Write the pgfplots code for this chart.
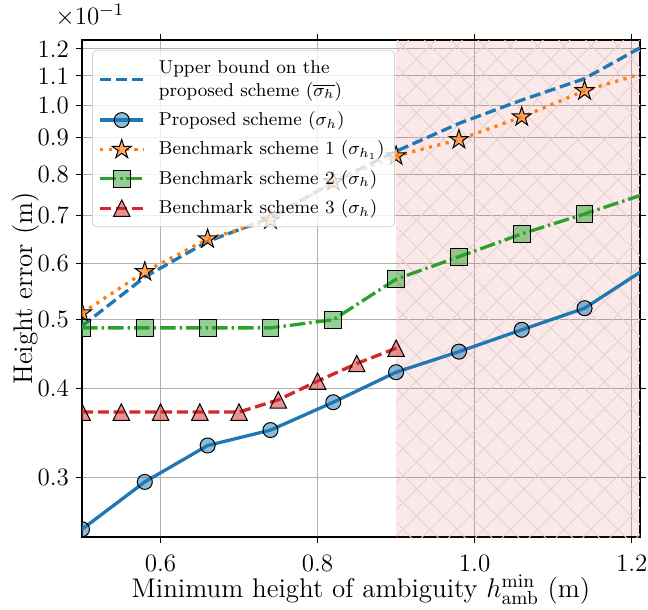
\RequirePackage{fix-cm}
\documentclass[border=0pt]{standalone}
\usepackage{pgfplots}
\pgfplotsset{compat=1.18}
\usetikzlibrary{patterns.meta}

\definecolor{mplblue}{RGB}{31,119,180}
\definecolor{mplorange}{RGB}{255,127,14}
\definecolor{mplgreen}{RGB}{44,160,44}
\definecolor{mplred}{RGB}{214,39,40}
\definecolor{gridc}{RGB}{176,176,176}
\definecolor{hatchc}{RGB}{228,210,211}

% filled five-point star, as matplotlib's '*'
\pgfdeclareplotmark{fstar}{%
  \pgfpathmoveto{\pgfpointpolar{90}{\pgfplotmarksize}}%
  \pgfpathlineto{\pgfpointpolar{126}{0.382\pgfplotmarksize}}%
  \pgfpathlineto{\pgfpointpolar{162}{\pgfplotmarksize}}%
  \pgfpathlineto{\pgfpointpolar{198}{0.382\pgfplotmarksize}}%
  \pgfpathlineto{\pgfpointpolar{234}{\pgfplotmarksize}}%
  \pgfpathlineto{\pgfpointpolar{270}{0.382\pgfplotmarksize}}%
  \pgfpathlineto{\pgfpointpolar{306}{\pgfplotmarksize}}%
  \pgfpathlineto{\pgfpointpolar{342}{0.382\pgfplotmarksize}}%
  \pgfpathlineto{\pgfpointpolar{18}{\pgfplotmarksize}}%
  \pgfpathlineto{\pgfpointpolar{54}{0.382\pgfplotmarksize}}%
  \pgfpathclose
  \pgfusepathqfillstroke
}
% isoceles triangle, as matplotlib's '^'
\pgfdeclareplotmark{mtri}{%
  \pgfpathmoveto{\pgfpoint{0pt}{\pgfplotmarksize}}%
  \pgfpathlineto{\pgfpoint{-\pgfplotmarksize}{-\pgfplotmarksize}}%
  \pgfpathlineto{\pgfpoint{\pgfplotmarksize}{-\pgfplotmarksize}}%
  \pgfpathclose
  \pgfusepathqfillstroke
}

\tikzset{
  mk/.style={solid, draw=black, line width=0.5pt, fill=#1, fill opacity=0.5},
}

\begin{document}
\begin{tikzpicture}
\begin{axis}[
  name=ax,
  scale only axis,
  width=279pt, height=248.5pt,
  ymode=log,
  xmin=0.5, xmax=1.2106,
  ymin=0.02477, ymax=0.1235,
  xtick={0.6,0.8,1.0,1.2},
  xticklabel style={/pgf/number format/fixed, /pgf/number format/precision=1,
                    /pgf/number format/fixed zerofill, yshift=-2.5pt},
  ytick={0.03,0.04,0.05,0.06,0.07,0.08,0.09,0.10,0.11,0.12},
  yticklabels={0.3,0.4,0.5,0.6,0.7,0.8,0.9,1.0,1.1,1.2},
  minor y tick num=0,
  tick label style={font=\fontsize{12.5}{15}\selectfont},
  label style={font=\fontsize{13.5}{16}\selectfont},
  xlabel={Minimum height of ambiguity $h_{\mathrm{amb}}^{\min}$ (m)},
  ylabel={Height error (m)},
  xlabel style={yshift=5pt},
  ylabel style={yshift=-7.5pt},
  grid=major,
  grid style={draw=gridc, line width=0.5pt},
  tick align=outside,
  major tick length=3pt,
  tick style={black, line width=0.5pt},
  axis line style={line width=0.6pt},
  clip marker paths=true,
  legend style={at={(0.018,0.98)}, anchor=north west,
                draw=gray!35, fill=white, fill opacity=0.8, text opacity=1,
                rounded corners=2pt, inner sep=3pt, row sep=2.2pt,
                font=\fontsize{9.3}{11.5}\selectfont,
                nodes={align=left},
                /tikz/every odd column/.append style={column sep=5pt}},
  legend cell align=left,
  legend image code/.code={%
    \draw[mark repeat=2, mark phase=2]
      plot coordinates {(0cm,0cm) (0.38cm,0cm) (0.76cm,0cm)};},
]
%% infeasible region, hatched
\addplot[draw=none, fill=mplred, fill opacity=0.1, forget plot]
  coordinates {(0.9,0.02) (1.3,0.02) (1.3,0.15) (0.9,0.15)} -- cycle;
\addplot[draw=none, pattern={Lines[angle=45, distance=9.5pt, line width=0.45pt]},
  pattern color=hatchc, forget plot]
  coordinates {(0.9,0.02) (1.3,0.02) (1.3,0.15) (0.9,0.15)} -- cycle;
\addplot[draw=none, pattern={Lines[angle=-45, distance=9.5pt, line width=0.45pt]},
  pattern color=hatchc, forget plot]
  coordinates {(0.9,0.02) (1.3,0.02) (1.3,0.15) (0.9,0.15)} -- cycle;

\addplot[mplblue, line width=1.65pt, dash pattern=on 5.5pt off 2.4pt]
  coordinates {
    (0.50,0.0490) (0.58,0.0574) (0.66,0.0644) (0.74,0.0695) (0.82,0.0780)
    (0.90,0.0862) (0.98,0.0943) (1.06,0.1017) (1.14,0.1090) (1.22,0.1220)
  };
\addlegendentry{Upper bound on the\\proposed scheme ($\overline{\sigma_h}$)}

\addplot[mplblue, line width=1.65pt, mark=*, mark size=3.75pt, mark options={mk=mplblue}]
  coordinates {
    (0.50,0.0254) (0.58,0.0296) (0.66,0.0333) (0.74,0.0350) (0.82,0.0383)
    (0.90,0.0422) (0.98,0.0451) (1.06,0.0484) (1.14,0.0519) (1.22,0.0592)
  };
\addlegendentry{Proposed scheme ($\sigma_h$)}

\addplot[mplorange, line width=1.65pt, dash pattern=on 1.6pt off 2.7pt,
  mark=fstar, mark size=5pt, mark options={mk=mplorange, fill opacity=0.65}]
  coordinates {
    (0.50,0.0511) (0.58,0.0584) (0.66,0.0649) (0.74,0.0690) (0.82,0.0781)
    (0.90,0.0849) (0.98,0.0895) (1.06,0.0963) (1.14,0.1048) (1.22,0.1114)
  };
\addlegendentry{Benchmark scheme 1 ($\sigma_{h_1}$)}

\addplot[mplgreen, line width=1.65pt, dash pattern=on 7.8pt off 2pt on 1.2pt off 2pt,
  mark=square*, mark size=4.2pt, mark options={mk=mplgreen}]
  coordinates {
    (0.50,0.0487) (0.58,0.0487) (0.66,0.0487) (0.74,0.0487) (0.82,0.0500)
    (0.90,0.0570) (0.98,0.0613) (1.06,0.0660) (1.14,0.0704) (1.22,0.0753)
  };
\addlegendentry{Benchmark scheme 2 ($\sigma_h$)}

\addplot[mplred, line width=1.65pt, dash pattern=on 5.5pt off 2.4pt,
  mark=mtri, mark size=4.1pt, mark options={mk=mplred}]
  coordinates {
    (0.50,0.0371) (0.55,0.0371) (0.60,0.0371) (0.65,0.0371) (0.70,0.0371)
    (0.75,0.0386) (0.80,0.0410) (0.85,0.0434) (0.90,0.0456)
  };
\addlegendentry{Benchmark scheme 3 ($\sigma_h$)}
\end{axis}
\node[anchor=base west, inner sep=0pt, font=\fontsize{12.5}{15}\selectfont,
  xshift=-13.5pt, yshift=7.5pt] at (ax.north west) {$\times10^{-1}$};
%% frame the page as the reference does
\pgfresetboundingbox
\path ([shift={(-41pt,-36.5pt)}]ax.south west)
  rectangle ([shift={(4pt,20pt)}]ax.north east);
\end{tikzpicture}
\end{document}
